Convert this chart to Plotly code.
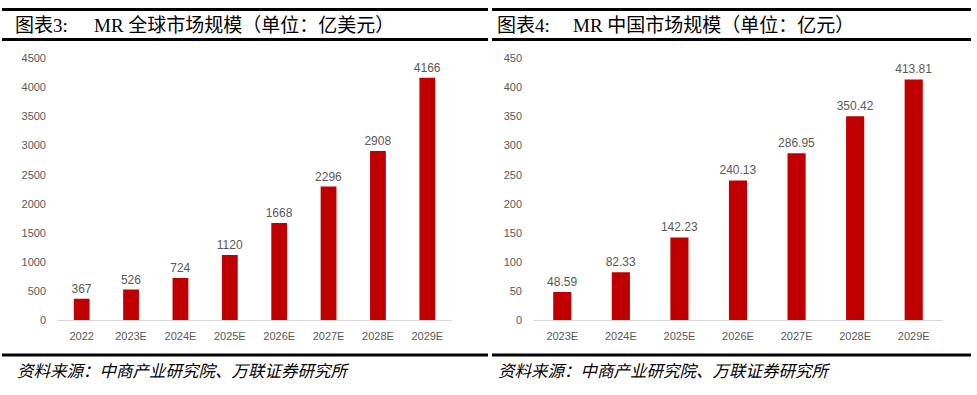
import plotly.graph_objects as go

# ---- data ----
global_years = ["2022", "2023E", "2024E", "2025E", "2026E", "2027E", "2028E", "2029E"]
global_values = [367, 526, 724, 1120, 1668, 2296, 2908, 4166]
global_labels = ["367", "526", "724", "1120", "1668", "2296", "2908", "4166"]

china_years = ["2023E", "2024E", "2025E", "2026E", "2027E", "2028E", "2029E"]
china_values = [48.59, 82.33, 142.23, 240.13, 286.95, 350.42, 413.81]
china_labels = ["48.59", "82.33", "142.23", "240.13", "286.95", "350.42", "413.81"]

global_ticks = [0, 500, 1000, 1500, 2000, 2500, 3000, 3500, 4000, 4500]
china_ticks = [0, 50, 100, 150, 200, 250, 300, 350, 400, 450]

W, H = 977, 395
RED = "#C00000"
GRAY = "#595959"
TICKFONT = dict(family="Liberation Sans, Arial, sans-serif", size=11, color=GRAY)
LABELFONT = dict(family="Liberation Sans, Arial, sans-serif", size=12, color=GRAY)
TITLEFONT = dict(family="Liberation Serif, Noto Sans CJK SC, serif", size=19, color="#000000")
SRCFONT = dict(family="Liberation Serif, Noto Sans CJK SC, serif", size=16.5, color="#000000", style="italic")

def px(x):
    return x / W

def py(y):
    return 1 - y / H

fig = go.Figure()
fig.add_trace(go.Bar(x=global_years, y=global_values, text=global_labels,
                     textposition="outside", textfont=LABELFONT, cliponaxis=False,
                     constraintext="none",
                     marker=dict(color=RED, line=dict(width=0)), width=0.32,
                     xaxis="x", yaxis="y", hoverinfo="x+y"))
fig.add_trace(go.Bar(x=china_years, y=china_values, text=china_labels,
                     textposition="outside", textfont=LABELFONT, cliponaxis=False,
                     constraintext="none",
                     marker=dict(color=RED, line=dict(width=0)), width=0.31,
                     xaxis="x2", yaxis="y2", hoverinfo="x+y"))

ydom = [py(324), py(54)]
axis_common = dict(showgrid=False, zeroline=False, ticks="", tickfont=TICKFONT)
fig.update_layout(
    width=W, height=H,
    margin=dict(l=0, r=0, t=0, b=0),
    paper_bgcolor="white", plot_bgcolor="white",
    showlegend=False,
    xaxis=dict(domain=[px(57), px(452)], anchor="y", showline=True, linecolor="#D9D9D9",
               linewidth=1, ticklabelstandoff=6, **axis_common),
    yaxis=dict(domain=ydom, anchor="x", range=[0, 4500], tickvals=global_ticks,
               showline=False, ticklabelstandoff=10, **axis_common),
    xaxis2=dict(domain=[px(533), px(943)], anchor="y2", showline=True, linecolor="#D9D9D9",
                linewidth=1, ticklabelstandoff=6, **axis_common),
    yaxis2=dict(domain=ydom, anchor="x2", range=[0, 450], tickvals=china_ticks,
                showline=False, ticklabelstandoff=10, **axis_common),
)

shapes = []
for x0, x1 in [(2, 488), (492, 971)]:
    for y, w in [(3.5, 3), (34.5, 3), (360, 3)]:
        shapes.append(dict(type="line", xref="paper", yref="paper",
                           x0=px(x0), x1=px(x1), y0=py(y), y1=py(y),
                           line=dict(color="black", width=w)))
fig.update_layout(shapes=shapes)

annots = [
    dict(text="图表3:", x=px(13), y=py(20)),
    dict(text="MR 全球市场规模（单位：亿美元）", x=px(92), y=py(20)),
    dict(text="图表4:", x=px(495), y=py(20)),
    dict(text="MR 中国市场规模（单位：亿元）", x=px(571), y=py(20)),
]
for a in annots:
    fig.add_annotation(xref="paper", yref="paper", xanchor="left", yanchor="middle",
                       showarrow=False, font=TITLEFONT, **a)
for x in [15, 496]:
    fig.add_annotation(text="资料来源：中商产业研究院、万联证券研究所", xref="paper", yref="paper",
                       x=px(x), y=py(377), xanchor="left", yanchor="middle",
                       showarrow=False, font=SRCFONT)

post = ("document.documentElement.style.margin='0';document.documentElement.style.overflow='hidden';"
        "document.body.style.margin='0';document.body.style.padding='0';"
        "document.body.style.overflow='hidden';")
fig.write_html("out.html", config={"displayModeBar": False}, post_script=post)
